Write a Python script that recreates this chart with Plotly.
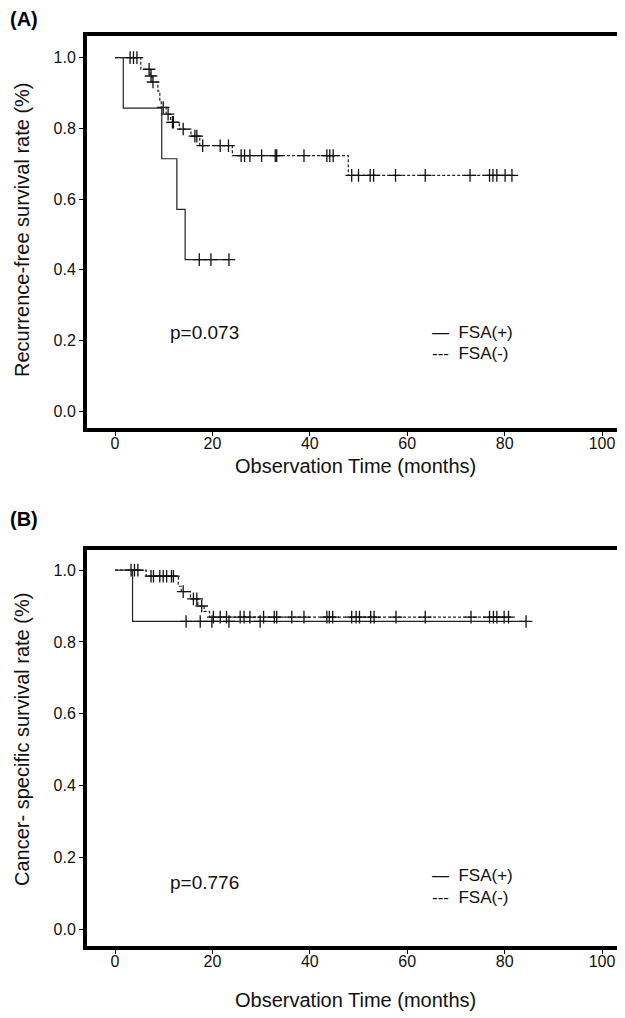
import numpy as np
import plotly.graph_objects as go

# (A) recurrence-free survival -- Kaplan-Meier steps
rfs_pos_time = [0, 1.7, 9.6, 12.7, 14.4, 23.4]
rfs_pos_surv = [1.0, 0.857, 0.714, 0.571, 0.429, 0.429]
rfs_pos_cens = [17.3, 19.7, 23.4]

rfs_neg_time = [0, 5.3, 7.2, 7.6, 8.8, 9.2, 9.5, 10.5, 11.4, 13.2, 15.6, 17.4, 24.1, 47.9, 81.7]
rfs_neg_surv = [1.0, 0.967, 0.948, 0.931, 0.905, 0.88, 0.859, 0.840, 0.817, 0.798, 0.778, 0.751,
                0.723, 0.667, 0.667]
rfs_neg_cens = [3.1, 3.8, 4.5, 7.0, 7.4, 7.8, 9.9, 10.9, 11.8, 12.0, 14.0, 16.4, 16.8, 18.0, 21.6,
                23.3, 25.9, 26.6, 27.7, 30.1, 32.9, 33.2, 38.8, 43.5, 44.1, 44.8, 48.6, 50.0, 52.4,
                53.1, 57.6, 63.7, 72.9, 76.9, 77.6, 78.4, 80.1, 81.5]

# (B) cancer-specific survival
css_pos_time = [0, 3.6, 84.5]
css_pos_surv = [1.0, 0.857, 0.857]
css_pos_cens = [14.6, 17.5, 19.9, 23.4, 29.8, 84.4]

css_neg_time = [0, 6.4, 13.0, 13.6, 15.5, 17.0, 18.3, 19.4, 81.7]
css_neg_surv = [1.0, 0.983, 0.955, 0.94, 0.92, 0.90, 0.885, 0.869, 0.869]
css_neg_cens = [3.3, 4.0, 4.7, 7.4, 7.9, 9.2, 9.9, 10.6, 11.6, 12.0, 14.0, 16.1, 16.8, 17.8, 20.2,
                21.6, 22.9, 25.7, 26.5, 27.7, 30.5, 32.7, 33.2, 36.3, 38.8, 43.5, 44.0, 44.7, 48.6,
                49.5, 50.2, 52.5, 53.2, 57.7, 63.7, 73.1, 76.9, 77.7, 78.4, 79.9, 80.8]

x_ticks = [0, 20, 40, 60, 80, 100]
y_ticks = [0.0, 0.2, 0.4, 0.6, 0.8, 1.0]

FONT = "Liberation Sans, Arial, sans-serif"

# the page body keeps its default 8px margin, so the figure is 8px smaller
# and every reference pixel position is shifted by that amount
PAD = 8
W, H = 625 - PAD, 1018 - PAD


def paper(px, py):
    return (px - PAD) / W, 1 - (py - PAD) / H


def level_at(times, survs, t):
    # survival level of a step curve at time t (for the censor marks)
    idx = np.searchsorted(np.array(times), np.array(t), side="right") - 1
    return np.array(survs)[idx]


fig = go.Figure()

panels = [
    ("x", "y", rfs_pos_time, rfs_pos_surv, rfs_pos_cens, rfs_neg_time, rfs_neg_surv, rfs_neg_cens),
    ("x2", "y2", css_pos_time, css_pos_surv, css_pos_cens, css_neg_time, css_neg_surv, css_neg_cens),
]
for xa, ya, pt, ps, pc, nt, ns, nc in panels:
    fig.add_trace(go.Scatter(x=nt, y=ns, mode="lines", line_shape="hv",
                             line=dict(color="#222", width=1.2, dash="3px,2px"),
                             xaxis=xa, yaxis=ya, showlegend=False))
    fig.add_trace(go.Scatter(x=nc, y=level_at(nt, ns, nc), mode="markers",
                             marker=dict(symbol="cross-thin", size=9, line=dict(color="#111", width=1.3)),
                             xaxis=xa, yaxis=ya, showlegend=False))
    fig.add_trace(go.Scatter(x=pt, y=ps, mode="lines", line_shape="hv",
                             line=dict(color="#222", width=1.2),
                             xaxis=xa, yaxis=ya, showlegend=False))
    fig.add_trace(go.Scatter(x=pc, y=level_at(pt, ps, pc), mode="markers",
                             marker=dict(symbol="cross-thin", size=9, line=dict(color="#111", width=1.3)),
                             xaxis=xa, yaxis=ya, showlegend=False))

xl, _ = paper(87, 0)
xr, _ = paper(622, 0)
_, ya_top = paper(0, 36)
_, ya_bot = paper(0, 428)
_, yb_top = paper(0, 550)
_, yb_bot = paper(0, 946)

axis_common = dict(showline=True, linewidth=4, linecolor="black", mirror=True,
                   ticks="outside", ticklen=4, tickwidth=1, tickcolor="black",
                   showgrid=False, zeroline=False, automargin=False,
                   tickfont=dict(family=FONT, size=16, color="#111"))

xa_common = dict(axis_common, range=[-5.75, 104.1], tickvals=x_ticks, ticklabelstandoff=-6)

fig.update_layout(
    width=W, height=H,
    margin=dict(l=0, r=0, t=0, b=0, autoexpand=False),
    plot_bgcolor="white", paper_bgcolor="white",
    xaxis=dict(xa_common, domain=[xl, xr], anchor="y"),
    yaxis=dict(axis_common, domain=[ya_bot, ya_top], anchor="x", range=[-0.047, 1.061],
               tickvals=y_ticks, tickformat=".1f"),
    xaxis2=dict(xa_common, domain=[xl, xr], anchor="y2"),
    yaxis2=dict(axis_common, domain=[yb_bot, yb_top], anchor="x2", range=[-0.047, 1.056],
                tickvals=y_ticks, tickformat=".1f"),
)

title_font = dict(family=FONT, size=20, color="#111")
txt = dict(family=FONT, size=19, color="#111")
leg = dict(family=FONT, size=17, color="#111")

annos = []
for label, py in [("<b>(A)</b>", 6), ("<b>(B)</b>", 506)]:
    x0, y0 = paper(8, py)
    annos.append(dict(text=label, xref="paper", yref="paper", x=x0, y=y0, xanchor="left", yanchor="top",
                      font=dict(family=FONT, size=20, color="black")))
for py in [466, 1000]:
    x0, y0 = paper(355, py)
    annos.append(dict(text="Observation Time (months)", xref="paper", yref="paper", x=x0, y=y0,
                      xanchor="center", yanchor="middle", font=title_font))
for label, py in [("Recurrence-free survival rate (%)", 230), ("Cancer- specific survival rate (%)", 740)]:
    x0, y0 = paper(22, py)
    annos.append(dict(text=label, xref="paper", yref="paper", x=x0, y=y0, textangle=-90,
                      xanchor="center", yanchor="middle", font=title_font))

annos += [
    dict(text="p=0.073", xref="x", yref="y", x=10.9, y=0.224, xanchor="left", font=txt),
    dict(text="—  FSA(+)", xref="x", yref="y", x=64.7, y=0.224, xanchor="left", font=leg),
    dict(text="---  FSA(-)", xref="x", yref="y", x=64.7, y=0.165, xanchor="left", font=leg),
    dict(text="p=0.776", xref="x2", yref="y2", x=10.9, y=0.13, xanchor="left", font=txt),
    dict(text="—  FSA(+)", xref="x2", yref="y2", x=64.7, y=0.15, xanchor="left", font=leg),
    dict(text="---  FSA(-)", xref="x2", yref="y2", x=64.7, y=0.087, xanchor="left", font=leg),
]
for a in annos:
    a["showarrow"] = False
fig.update_layout(annotations=annos)

fig.write_html("out.html")
